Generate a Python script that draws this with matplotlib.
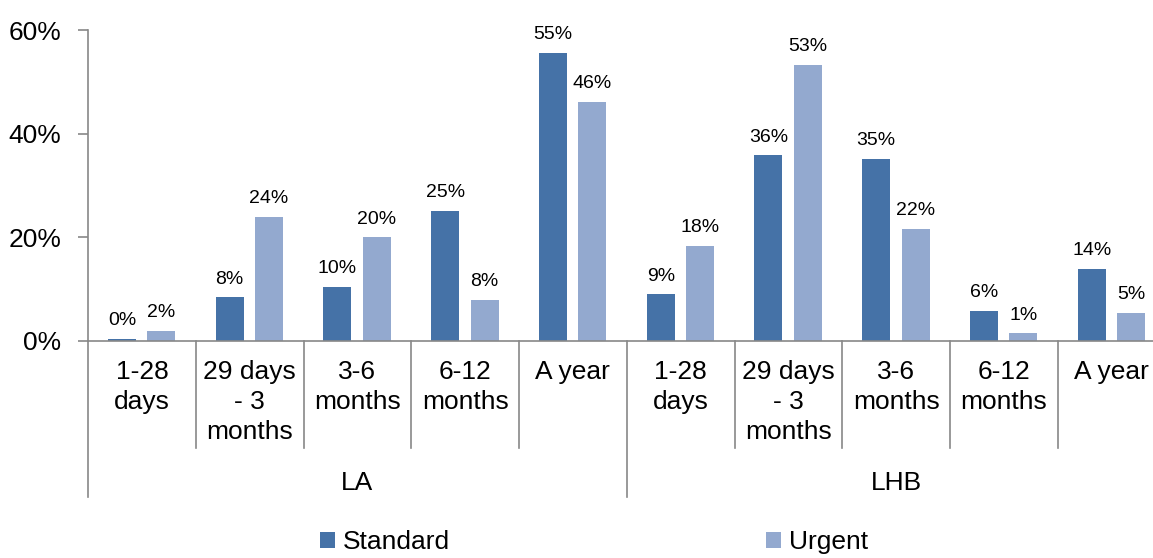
import numpy as np
import matplotlib
matplotlib.use("Agg")
import matplotlib.pyplot as plt
import matplotlib.transforms as mtransforms

plt.rcParams['font.family'] = ['Liberation Sans', 'DejaVu Sans']

groups = ['LA', 'LHB']
categories = ['1-28\ndays', '29 days\n- 3\nmonths', '3-6\nmonths', '6-12\nmonths', 'A year']
standard = [0.4, 8.4, 10.5, 25.1, 55.6, 9.0, 35.8, 35.2, 5.8, 13.9]
urgent = [1.9, 24.0, 20.0, 7.9, 46.2, 18.4, 53.3, 21.6, 1.5, 5.4]
standard_labels = ['0%', '8%', '10%', '25%', '55%', '9%', '36%', '35%', '6%', '14%']
urgent_labels = ['2%', '24%', '20%', '8%', '46%', '18%', '53%', '22%', '1%', '5%']

c_std = '#4572A7'
c_urg = '#93A9CF'
grey = '#888888'

fig = plt.figure(figsize=(11.53, 5.58), dpi=100)
ax = fig.add_axes([88 / 1153, 217 / 558, 1077.5 / 1153, 311 / 558])

n = len(standard)
x = np.arange(n)
w = 0.26
b1 = ax.bar(x - 0.185, standard, w, color=c_std, label='Standard')
b2 = ax.bar(x + 0.18, urgent, w, color=c_urg, label='Urgent')

for rect, lab in zip(b1, standard_labels):
    ax.annotate(lab, (rect.get_x() + rect.get_width() / 2, rect.get_height()),
                xytext=(0, 7), textcoords='offset points', ha='center', va='bottom', fontsize=14)
for rect, lab in zip(b2, urgent_labels):
    ax.annotate(lab, (rect.get_x() + rect.get_width() / 2, rect.get_height()),
                xytext=(0, 7), textcoords='offset points', ha='center', va='bottom', fontsize=14)

ax.set_xlim(-0.5, n - 0.5)
ax.set_ylim(0, 60)
ax.set_yticks([0, 20, 40, 60])
ax.set_yticklabels(['0%', '20%', '40%', '60%'], fontsize=19)
ax.tick_params(axis='y', direction='out', length=7, width=1.2, color=grey, pad=12)
ax.set_xticks([])
for s in ['top', 'right']:
    ax.spines[s].set_visible(False)
ax.spines['left'].set_color(grey)
ax.spines['left'].set_linewidth(1.2)
ax.spines['bottom'].set_color(grey)
ax.spines['bottom'].set_linewidth(1.2)

# multi-level category axis
trans = mtransforms.blended_transform_factory(ax.transData, ax.transAxes)
short_y = -107 / 311
long_y = -156 / 311
for i in range(n + 1):
    xs = i - 0.5
    yb = long_y if i % 5 == 0 else short_y
    ax.plot([xs, xs], [0, yb], transform=trans, color=grey, lw=1.2, clip_on=False)

for i in range(n):
    ax.text(i, -19 / 311, categories[i % 5], transform=trans, ha='center', va='top',
            fontsize=19, linespacing=1.32)
for g, name in enumerate(groups):
    ax.text(g * 5 + 2, -142 / 311, name, transform=trans, ha='center', va='center', fontsize=19)

fig.legend(handles=[b1, b2], labels=['Standard', 'Urgent'], loc='lower center',
           bbox_to_anchor=(594 / 1153, 0.0), ncol=2, frameon=False, fontsize=19,
           handlelength=0.55, handleheight=0.55, handletextpad=0.3, columnspacing=12.0,
           borderpad=0.05, borderaxespad=0.1)

fig.savefig('out.png', dpi=100)
